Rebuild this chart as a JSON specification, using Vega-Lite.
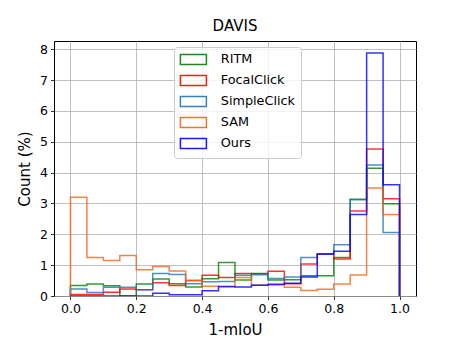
{
  "$schema": "https://vega.github.io/schema/vega-lite/v6.json",
  "autosize": {"type": "none"},
  "width": 362,
  "height": 255,
  "padding": {"left": 54, "top": 41, "right": 39, "bottom": 42},
  "background": "white",
  "title": {"text": "DAVIS", "font": "DejaVu Sans", "fontSize": 15, "fontWeight": "normal", "color": "#000", "offset": 7},
  "data": {"values": [
    {"m":"RITM","k":0,"x":0,"y":0},
    {"m":"RITM","k":1,"x":0,"y":0.34},{"m":"RITM","k":2,"x":0.05,"y":0.39},{"m":"RITM","k":3,"x":0.1,"y":0.33},{"m":"RITM","k":4,"x":0.15,"y":0.0},{"m":"RITM","k":5,"x":0.2,"y":0.39},
    {"m":"RITM","k":6,"x":0.25,"y":0.55},{"m":"RITM","k":7,"x":0.3,"y":0.4},{"m":"RITM","k":8,"x":0.35,"y":0.29},{"m":"RITM","k":9,"x":0.4,"y":0.56},{"m":"RITM","k":10,"x":0.45,"y":1.09},
    {"m":"RITM","k":11,"x":0.5,"y":0.52},{"m":"RITM","k":12,"x":0.55,"y":0.73},{"m":"RITM","k":13,"x":0.6,"y":0.52},{"m":"RITM","k":14,"x":0.65,"y":0.53},{"m":"RITM","k":15,"x":0.7,"y":0.66},
    {"m":"RITM","k":16,"x":0.75,"y":0.66},{"m":"RITM","k":17,"x":0.8,"y":1.25},{"m":"RITM","k":18,"x":0.85,"y":3.14},{"m":"RITM","k":19,"x":0.9,"y":4.14},{"m":"RITM","k":20,"x":0.95,"y":2.99},
    {"m":"RITM","k":21,"x":1.0,"y":0},
    {"m":"FocalClick","k":0,"x":0,"y":0},
    {"m":"FocalClick","k":1,"x":0,"y":0.05},{"m":"FocalClick","k":2,"x":0.05,"y":0.05},{"m":"FocalClick","k":3,"x":0.1,"y":0.12},{"m":"FocalClick","k":4,"x":0.15,"y":0.23},{"m":"FocalClick","k":5,"x":0.2,"y":0.2},
    {"m":"FocalClick","k":6,"x":0.25,"y":0.43},{"m":"FocalClick","k":7,"x":0.3,"y":0.34},{"m":"FocalClick","k":8,"x":0.35,"y":0.5},{"m":"FocalClick","k":9,"x":0.4,"y":0.67},{"m":"FocalClick","k":10,"x":0.45,"y":0.6},
    {"m":"FocalClick","k":11,"x":0.5,"y":0.73},{"m":"FocalClick","k":12,"x":0.55,"y":0.72},{"m":"FocalClick","k":13,"x":0.6,"y":0.8},{"m":"FocalClick","k":14,"x":0.65,"y":0.4},{"m":"FocalClick","k":15,"x":0.7,"y":1.04},
    {"m":"FocalClick","k":16,"x":0.75,"y":1.36},{"m":"FocalClick","k":17,"x":0.8,"y":1.2},{"m":"FocalClick","k":18,"x":0.85,"y":2.76},{"m":"FocalClick","k":19,"x":0.9,"y":4.77},{"m":"FocalClick","k":20,"x":0.95,"y":3.15},
    {"m":"FocalClick","k":21,"x":1.0,"y":0},
    {"m":"SimpleClick","k":0,"x":0,"y":0},
    {"m":"SimpleClick","k":1,"x":0,"y":0.23},{"m":"SimpleClick","k":2,"x":0.05,"y":0.11},{"m":"SimpleClick","k":3,"x":0.1,"y":0.28},{"m":"SimpleClick","k":4,"x":0.15,"y":0.28},{"m":"SimpleClick","k":5,"x":0.2,"y":0.2},
    {"m":"SimpleClick","k":6,"x":0.25,"y":0.73},{"m":"SimpleClick","k":7,"x":0.3,"y":0.7},{"m":"SimpleClick","k":8,"x":0.35,"y":0.4},{"m":"SimpleClick","k":9,"x":0.4,"y":0.46},{"m":"SimpleClick","k":10,"x":0.45,"y":0.47},
    {"m":"SimpleClick","k":11,"x":0.5,"y":0.67},{"m":"SimpleClick","k":12,"x":0.55,"y":0.69},{"m":"SimpleClick","k":13,"x":0.6,"y":0.57},{"m":"SimpleClick","k":14,"x":0.65,"y":0.62},{"m":"SimpleClick","k":15,"x":0.7,"y":1.25},
    {"m":"SimpleClick","k":16,"x":0.75,"y":1.35},{"m":"SimpleClick","k":17,"x":0.8,"y":1.66},{"m":"SimpleClick","k":18,"x":0.85,"y":3.12},{"m":"SimpleClick","k":19,"x":0.9,"y":4.25},{"m":"SimpleClick","k":20,"x":0.95,"y":2.06},
    {"m":"SimpleClick","k":21,"x":1.0,"y":0},
    {"m":"SAM","k":0,"x":0,"y":0},
    {"m":"SAM","k":1,"x":0,"y":3.2},{"m":"SAM","k":2,"x":0.05,"y":1.25},{"m":"SAM","k":3,"x":0.1,"y":1.15},{"m":"SAM","k":4,"x":0.15,"y":1.31},{"m":"SAM","k":5,"x":0.2,"y":0.85},
    {"m":"SAM","k":6,"x":0.25,"y":0.96},{"m":"SAM","k":7,"x":0.3,"y":0.81},{"m":"SAM","k":8,"x":0.35,"y":0.5},{"m":"SAM","k":9,"x":0.4,"y":0.32},{"m":"SAM","k":10,"x":0.45,"y":0.3},
    {"m":"SAM","k":11,"x":0.5,"y":0.6},{"m":"SAM","k":12,"x":0.55,"y":0.36},{"m":"SAM","k":13,"x":0.6,"y":0.36},{"m":"SAM","k":14,"x":0.65,"y":0.28},{"m":"SAM","k":15,"x":0.7,"y":0.18},
    {"m":"SAM","k":16,"x":0.75,"y":0.22},{"m":"SAM","k":17,"x":0.8,"y":0.39},{"m":"SAM","k":18,"x":0.85,"y":0.68},{"m":"SAM","k":19,"x":0.9,"y":3.5},{"m":"SAM","k":20,"x":0.95,"y":2.64},
    {"m":"SAM","k":21,"x":1.0,"y":0},
    {"m":"Ours","k":0,"x":0,"y":0},
    {"m":"Ours","k":1,"x":0,"y":0},{"m":"Ours","k":2,"x":0.05,"y":0},{"m":"Ours","k":3,"x":0.1,"y":0},{"m":"Ours","k":4,"x":0.15,"y":0},{"m":"Ours","k":5,"x":0.2,"y":0},
    {"m":"Ours","k":6,"x":0.25,"y":0.09},{"m":"Ours","k":7,"x":0.3,"y":0.04},{"m":"Ours","k":8,"x":0.35,"y":0.04},{"m":"Ours","k":9,"x":0.4,"y":0.17},{"m":"Ours","k":10,"x":0.45,"y":0.31},
    {"m":"Ours","k":11,"x":0.5,"y":0.29},{"m":"Ours","k":12,"x":0.55,"y":0.35},{"m":"Ours","k":13,"x":0.6,"y":0.38},{"m":"Ours","k":14,"x":0.65,"y":0.41},{"m":"Ours","k":15,"x":0.7,"y":0.62},
    {"m":"Ours","k":16,"x":0.75,"y":1.36},{"m":"Ours","k":17,"x":0.8,"y":1.45},{"m":"Ours","k":18,"x":0.85,"y":2.64},{"m":"Ours","k":19,"x":0.9,"y":7.88},{"m":"Ours","k":20,"x":0.95,"y":3.61},
    {"m":"Ours","k":21,"x":1.0,"y":0}
  ]},
  "mark": {"type": "line", "interpolate": "step-after", "strokeWidth": 1.5, "opacity": 0.8, "clip": true},
  "encoding": {
    "x": {"field": "x", "type": "quantitative", "scale": {"domain": [-0.05, 1.05], "nice": false, "zero": false},
      "axis": {"values": [0, 0.2, 0.4, 0.6, 0.8, 1.0], "format": ".1f", "title": "1-mIoU", "titlePadding": 7}},
    "y": {"field": "y", "type": "quantitative", "scale": {"domain": [0, 8.27], "nice": false},
      "axis": {"values": [0, 1, 2, 3, 4, 5, 6, 7, 8], "format": "d", "title": "Count (%)", "titlePadding": 7}},
    "color": {"field": "m", "type": "nominal",
      "scale": {"domain": ["RITM", "FocalClick", "SimpleClick", "SAM", "Ours"], "range": ["#008000", "#ff0000", "#1f77b4", "#f2631a", "#0000ff"]},
      "legend": {"orient": "none", "legendX": 120, "legendY": 6, "title": null,
        "symbolType": "M-5.2,-2H5.2V2H-5.2Z", "symbolSize": 25, "symbolOffset": 7, "symbolStrokeWidth": 1.5, "symbolFillColor": "transparent", "symbolOpacity": 0.9,
        "labelFont": "DejaVu Sans", "labelFontSize": 12.8, "labelColor": "#000", "labelOffset": 21,
        "fillColor": "rgba(255,255,255,0.8)", "strokeColor": "#cccccc", "cornerRadius": 3, "padding": 6, "rowPadding": 4}},
    "order": {"field": "k", "type": "quantitative"}
  },
  "config": {
    "view": {"stroke": "#000", "strokeWidth": 1},
    "axis": {"domain": false, "grid": true, "gridColor": "#b0b0b0", "gridWidth": 0.8, "tickColor": "#000", "tickSize": 3.5, "tickWidth": 0.8,
      "labelFont": "DejaVu Sans", "labelFontSize": 12.5, "labelColor": "#000", "labelPadding": 3,
      "titleFont": "DejaVu Sans", "titleFontSize": 15, "titleFontWeight": "normal", "titleColor": "#000"}
  }
}
